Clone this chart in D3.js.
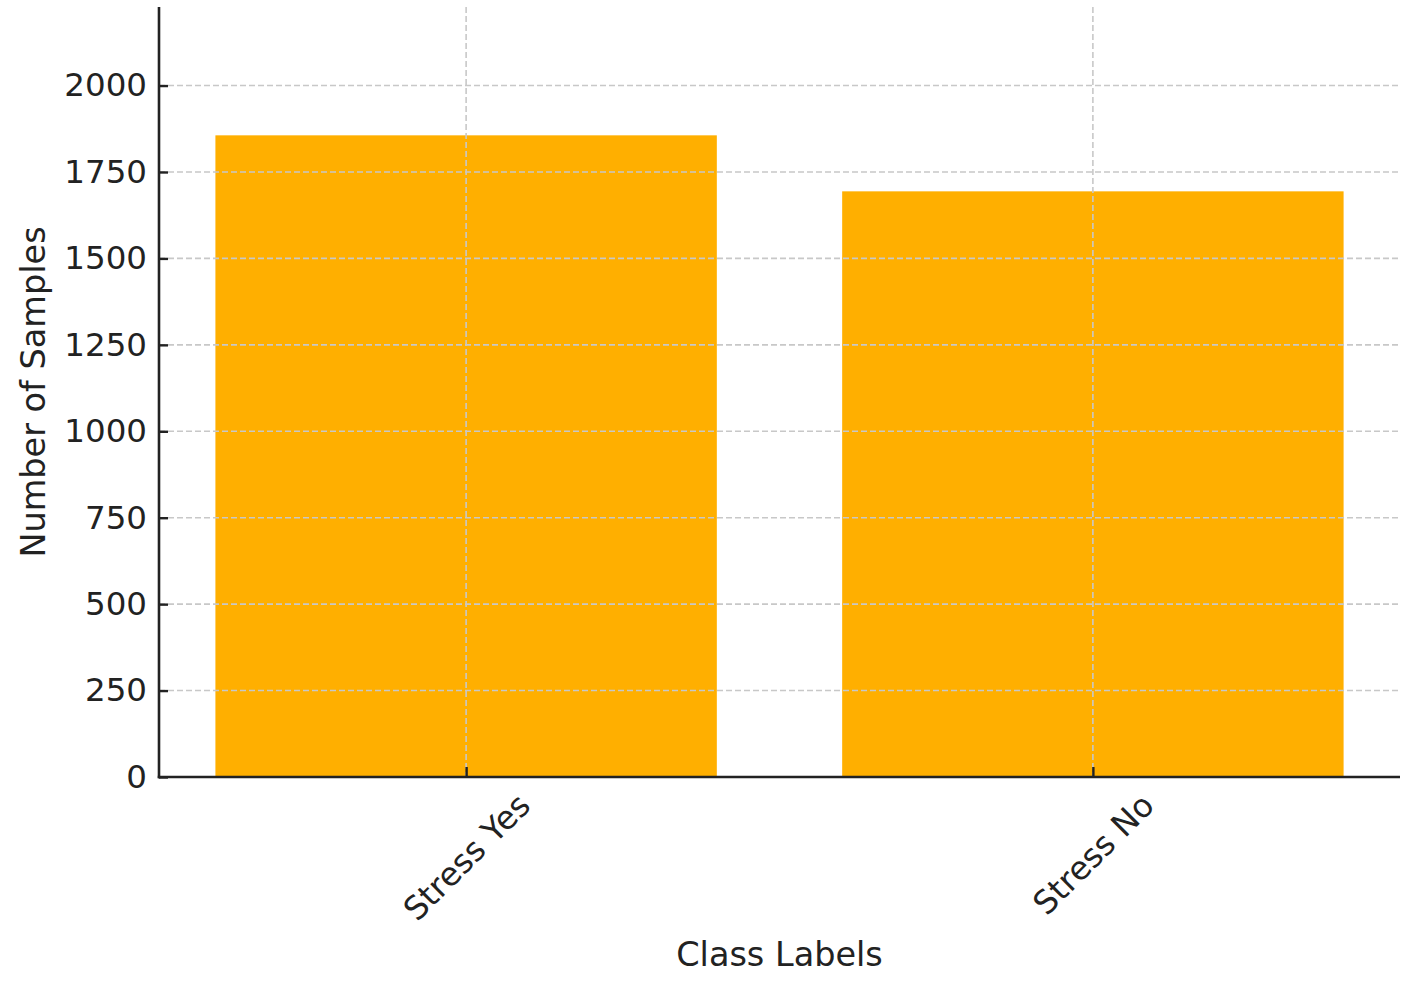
<!DOCTYPE html>
<html>
<head>
<meta charset="utf-8">
<script src="https://cdn.jsdelivr.net/npm/d3@7"></script>
<style>
  html, body { margin: 0; padding: 0; background: #fff; }
  text { font-family: "DejaVu Sans", sans-serif; fill: #222; }
</style>
</head>
<body>
<svg id="chart" width="1418" height="992"></svg>
<script>
const categories = ["Stress Yes", "Stress No"];
const counts = [1856, 1694];
const yTicks = [0, 250, 500, 750, 1000, 1250, 1500, 1750, 2000];
const xLabel = "Class Labels";
const yLabel = "Number of Samples";

(function () {
const svg = d3.select("#chart");
const pL = 159, pR = 1400, pT = 7, pB = 777;
const fs = 33.5, tfs = 32.5;

// x: matplotlib-like linear positions with bar width 0.8 and 5% margins
const x = d3.scaleLinear().domain([-0.49, categories.length - 1 + 0.49]).range([pL, pR]);
const y = d3.scaleLinear().domain([0, d3.max(counts) * 1.2]).range([pB, pT]);
const barW = x(0.8) - x(0);

// bars
svg.append("g").selectAll("rect").data(counts).join("rect")
  .attr("x", (d, i) => x(i) - barW / 2)
  .attr("width", barW)
  .attr("y", d => y(d))
  .attr("height", d => y(0) - y(d))
  .attr("fill", "#FFAF00");

// grid (drawn above bars)
const grid = svg.append("g");
grid.selectAll("line.h").data(yTicks).join("line").attr("class", "h")
  .attr("x1", pL).attr("x2", pR)
  .attr("y1", d => y(d)).attr("y2", d => y(d))
  .attr("stroke", "#c8c8c8").attr("stroke-width", 1.6).attr("stroke-dasharray", "6,3");
grid.selectAll("line.v").data(categories).join("line").attr("class", "v")
  .attr("x1", (d, i) => x(i)).attr("x2", (d, i) => x(i))
  .attr("y1", pT).attr("y2", pB)
  .attr("stroke", "#c8c8c8").attr("stroke-width", 1.6).attr("stroke-dasharray", "6,3");

// y axis
const yAxis = d3.axisLeft(y).tickValues(yTicks).tickFormat(d3.format("d"))
  .tickSizeInner(-9).tickSizeOuter(0).tickPadding(12);
const gy = svg.append("g").attr("transform", `translate(${pL},0)`).call(yAxis);
gy.select(".domain").remove();
gy.selectAll(".tick line").attr("stroke", "#222").attr("stroke-width", 2.4);
gy.selectAll(".tick text").style("font-size", tfs + "px").style("font-family", "DejaVu Sans").attr("fill", "#222");

// x axis
const xAxis = d3.axisBottom(x).tickValues(d3.range(categories.length)).tickFormat(i => categories[i])
  .tickSizeInner(-10).tickSizeOuter(0);
const gx = svg.append("g").attr("transform", `translate(0,${pB})`).call(xAxis);
gx.select(".domain").remove();
gx.selectAll(".tick line").attr("stroke", "#222").attr("stroke-width", 2.4);
gx.selectAll(".tick text").each(function () {
  const t = d3.select(this);
  t.style("font-size", tfs + "px").style("font-family", "DejaVu Sans").attr("fill", "#222")
   .attr("text-anchor", "middle").attr("dy", "0.35em").attr("y", 0)
   .attr("transform", "rotate(-45)");
  const r = this.getBoundingClientRect();
  const h = r.height;
  t.attr("transform", `translate(0,${9 + h / 2}) rotate(-45)`);
});

// spines
svg.append("line").attr("x1", pL).attr("x2", pL).attr("y1", pT).attr("y2", pB + 1.25)
  .attr("stroke", "#222").attr("stroke-width", 2.6);
svg.append("line").attr("x1", pL - 1.25).attr("x2", pR).attr("y1", pB).attr("y2", pB)
  .attr("stroke", "#222").attr("stroke-width", 2.6);

// axis labels
svg.append("text").attr("x", (pL + pR) / 2).attr("y", 966)
  .attr("text-anchor", "middle").style("font-size", fs + "px").text(xLabel);
svg.append("text").attr("transform", `translate(45,${(pT + pB) / 2}) rotate(-90)`)
  .attr("text-anchor", "middle").style("font-size", fs + "px").text(yLabel);
})();
</script>
</body>
</html>
